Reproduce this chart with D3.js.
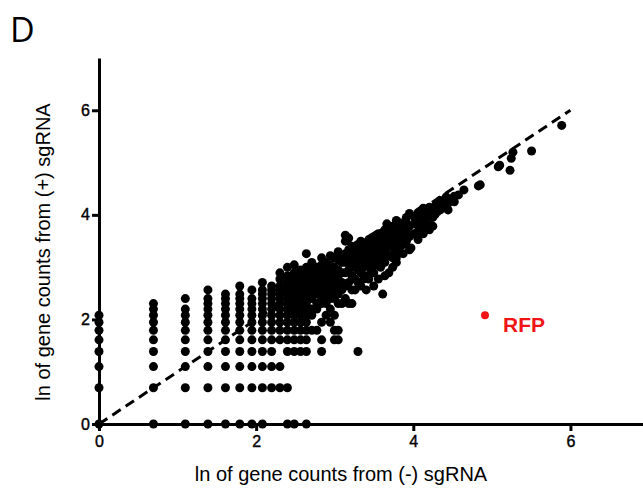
<!DOCTYPE html>
<html>
<head>
<meta charset="utf-8">
<script src="https://cdn.jsdelivr.net/npm/d3@7"></script>
<style>
    html, body { margin: 0; padding: 0; background: #fff; }
    svg { display: block; }
    .axis path, .axis line { stroke: #000; stroke-width: 3; }
    .axis text { font-family: 'Liberation Sans', Arial, sans-serif; font-size: 16px; fill: #000;
        stroke: #000; stroke-width: 0.4; }
    .axis-title { font-family: 'Liberation Sans', Arial, sans-serif; font-size: 20px; fill: #000; }
</style>
</head>
<body>
<svg id="chart" width="643" height="488"></svg>
<script>
// Scatter of ln(gene counts): (-) sgRNA on x, (+) sgRNA on y.
// Values are kept as raw counts; the plot shows ln(count).

// minus-sgRNA count for each column of points
var COL_MINUS = [1, 2, 3, 4, 5, 6, 7, 8, 9, 10, 11, 12, 13, 14, 15, 16, 17, 18, 19, 20, 21, 22,
    23, 24, 25, 26, 27, 28, 29, 30, 31, 32, 33, 34, 35, 36, 37, 38, 39, 40, 42, 43, 44, 46, 48,
    50, 52, 53, 55, 58, 60, 62, 64, 67, 70, 72, 74, 77, 80, 83, 85, 88, 92, 97,
    104, 125, 128, 161, 164, 187, 190, 194, 246, 361];

// plus-sgRNA counts of the genes in that column
var COL_PLUS = [
    [1, 2, 3, 4, 5, 6, 7, 8],
    [1, 2, 3, 4, 5, 6, 7, 8, 9, 10],
    [1, 2, 3, 4, 5, 6, 7, 8, 9, 11],
    [1, 2, 3, 4, 5, 6, 7, 8, 9, 10, 11, 13],
    [1, 2, 3, 4, 5, 6, 7, 8, 9, 10, 11, 12],
    [1, 2, 3, 4, 5, 6, 7, 8, 9, 10, 11, 12, 14],
    [1, 2, 3, 4, 5, 6, 7, 8, 9, 10, 11, 13],
    [1, 2, 3, 4, 5, 6, 7, 8, 9, 10, 11, 12, 13, 15],
    [2, 3, 4, 5, 6, 7, 8, 9, 10, 11, 12, 13, 14],
    [2, 3, 5, 6, 7, 8, 9, 10, 11, 12, 13, 14, 16, 18],
    [1, 2, 4, 5, 6, 7, 8, 9, 10, 11, 12, 13, 14, 15, 17, 20],
    [1, 4, 5, 6, 7, 8, 9, 10, 11, 12, 13, 14, 15, 16, 18, 21],
    [4, 5, 6, 7, 8, 9, 10, 11, 12, 13, 14, 15, 16, 17, 19],
    [1, 4, 5, 6, 7, 8, 9, 10, 11, 12, 13, 14, 15, 16, 17, 18, 20, 26],
    [6, 8, 9, 11, 12, 14, 15, 17, 19, 22],
    [6, 9, 10, 12, 13, 15, 16, 18, 20],
    [4, 5, 7, 10, 11, 13, 14, 16, 18, 21, 24],
    [8, 10, 12, 13, 15, 17, 20, 22],
    [7, 9, 11, 12, 14, 16, 19, 21, 25],
    [5, 6, 8, 11, 13, 15, 17, 20, 24],
    [5, 6, 10, 12, 14, 16, 19, 23, 27],
    [10, 13, 15, 18, 22, 24],
    [11, 14, 18, 22, 26, 33, 37],
    [10, 15, 19, 23, 28, 35],
    [10, 13, 17, 21, 25, 30],
    [13, 16, 20, 24, 29],
    [4, 15, 19, 23, 27, 31],
    [14, 18, 22, 26, 33],
    [16, 20, 25, 29],
    [13, 17, 21, 24, 28, 32],
    [16, 22, 26, 30, 34],
    [19, 23, 28, 35],
    [14, 18, 24, 29, 32, 36],
    [21, 26, 31, 37],
    [16, 23, 28, 33, 38],
    [20, 25, 30, 36],
    [12, 24, 29, 34, 39],
    [17, 22, 27, 33, 41],
    [26, 31, 37, 46],
    [18, 25, 30, 36, 42],
    [20, 24, 30, 35, 44],
    [28, 33, 40],
    [22, 24, 30, 37, 49],
    [27, 34, 41, 47],
    [26, 31, 38, 45],
    [33, 40, 47, 52],
    [28, 36, 44, 56],
    [29],
    [38, 46, 53],
    [34, 40, 48, 57],
    [44, 52, 59],
    [38, 47, 55, 62],
    [42, 51, 60],
    [41, 45, 56, 63],
    [44, 52, 62],
    [55, 64],
    [58, 68],
    [60, 72],
    [63, 70],
    [66, 77],
    [60, 68],
    [72],
    [70, 78],
    [80],
    [88],
    [95],
    [97],
    [137],
    [141],
    [128],
    [161],
    [181],
    [185],
    [302]
];

var RFP_COUNTS = [136, 8];   // [minus, plus]
var X_TICKS = [0, 2, 4, 6];
var Y_TICKS = [0, 2, 4, 6];
var DIAG = [0, 6];

var svg = d3.select('#chart');

var x = d3.scaleLinear().domain([0, 7]).range([99, 649]);
var y = d3.scaleLinear().domain([0, 7]).range([424, 58]);

var points = [];
COL_MINUS.forEach(function (m, i) {
    COL_PLUS[i].forEach(function (p) {
        points.push({ x: Math.log(m), y: Math.log(p) });
    });
});

// panel letter
svg.append('text')
    .attr('x', 10).attr('y', 42)
    .attr('font-family', "'Open Sans', 'Liberation Sans', sans-serif")
    .attr('font-size', 34)
    .text('D');

// axes
svg.append('g').attr('class', 'axis')
    .attr('transform', 'translate(0,' + y(0) + ')')
    .call(d3.axisBottom(x).tickValues(X_TICKS).tickFormat(d3.format('d'))
        .tickSize(7).tickPadding(5).tickSizeOuter(0));
svg.append('g').attr('class', 'axis')
    .attr('transform', 'translate(' + x(0) + ',0)')
    .call(d3.axisLeft(y).tickValues(Y_TICKS).tickFormat(d3.format('d'))
        .tickSize(7).tickPadding(2).tickSizeOuter(0));

svg.append('text').attr('class', 'axis-title')
    .attr('x', 341).attr('y', 481)
    .attr('text-anchor', 'middle')
    .text('ln of gene counts from (-) sgRNA');
svg.append('text').attr('class', 'axis-title')
    .attr('transform', 'translate(50,252) rotate(-90)')
    .attr('text-anchor', 'middle')
    .text('ln of gene counts from (+) sgRNA');

// points
svg.append('g').selectAll('circle')
    .data(points)
    .join('circle')
    .attr('cx', function (d) { return x(d.x); })
    .attr('cy', function (d) { return y(d.y); })
    .attr('r', 4.5)
    .attr('fill', '#000');

// identity line
svg.append('line')
    .attr('x1', x(DIAG[0])).attr('y1', y(DIAG[0]))
    .attr('x2', x(DIAG[1])).attr('y2', y(DIAG[1]))
    .attr('stroke', '#000').attr('stroke-width', 3)
    .attr('stroke-dasharray', '10,6');

// RFP highlight
svg.append('circle')
    .attr('cx', x(Math.log(RFP_COUNTS[0])))
    .attr('cy', y(Math.log(RFP_COUNTS[1])))
    .attr('r', 4)
    .attr('fill', '#f01414');
svg.append('text')
    .attr('x', x(Math.log(RFP_COUNTS[0])) + 18)
    .attr('y', y(Math.log(RFP_COUNTS[1])) + 17)
    .attr('font-family', "'Liberation Sans', Arial, sans-serif")
    .attr('font-size', 21).attr('font-weight', 'bold')
    .attr('fill', '#f01414')
    .text('RFP');
</script>
</body>
</html>
